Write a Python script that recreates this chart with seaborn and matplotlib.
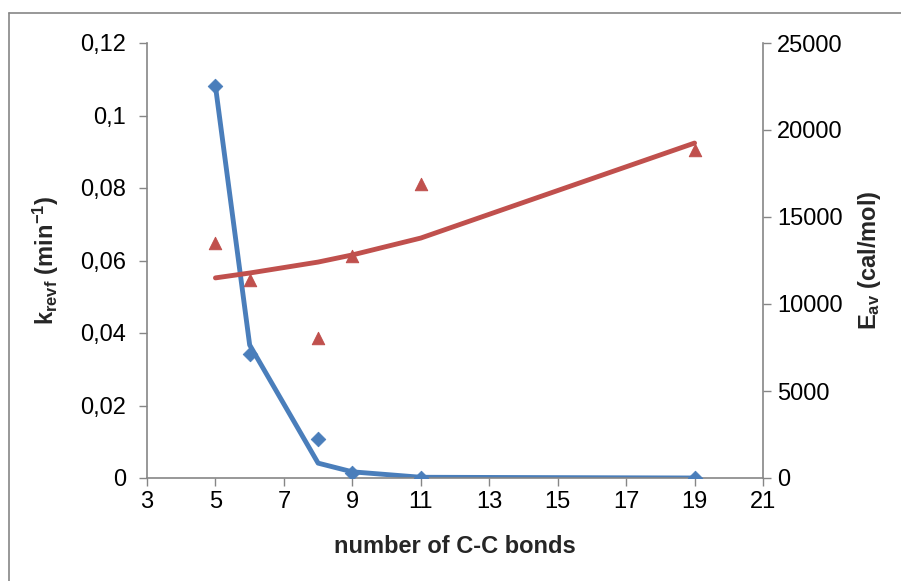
import matplotlib
matplotlib.use("Agg")
import matplotlib.pyplot as plt
from matplotlib.lines import Line2D
from matplotlib.ticker import FuncFormatter, MultipleLocator, FixedLocator
import pandas as pd
import seaborn as sns

sns.set_style("white")
plt.rcParams["font.family"] = ["Liberation Sans", "DejaVu Sans"]
plt.rcParams["mathtext.fontset"] = "custom"
plt.rcParams["mathtext.rm"] = "Liberation Sans"
plt.rcParams["mathtext.bf"] = "Liberation Sans:bold"

# data
bonds = [5, 6, 8, 9, 11, 19]
k_points = [0.1081, 0.0342, 0.0108, 0.0014, 0.0, 0.0]
k_fit = [0.1081, 0.0367, 0.0041, 0.0017, 0.0002, 0.0]
e_points = [13500, 11380, 8050, 12760, 16900, 18850]
e_fit = [11500, 11780, 12410, 12820, 13790, 19250]
x_ticks = [3, 5, 7, 9, 11, 13, 15, 17, 19, 21]

df = pd.DataFrame({"bonds": bonds, "k": k_points, "k_fit": k_fit,
                   "E": e_points, "E_fit": e_fit})

blue = "#4a7ebb"
red = "#c0504d"
gray = "#868686"

fig = plt.figure(figsize=(9.01, 5.81), dpi=100)
ax = fig.add_axes([147 / 901, 103 / 581, 616 / 901, 435 / 581])
ax2 = ax.twinx()

sns.lineplot(data=df, x="bonds", y="k_fit", ax=ax, color=blue, linewidth=3.5)
sns.scatterplot(data=df, x="bonds", y="k", ax=ax, color=blue, marker="D",
                s=55, edgecolor=blue, zorder=3)
sns.lineplot(data=df, x="bonds", y="E_fit", ax=ax2, color=red, linewidth=3.5)
sns.scatterplot(data=df, x="bonds", y="E", ax=ax2, color=red, marker="^",
                s=80, edgecolor=red, zorder=3)

ax.set_xlim(3, 21)
ax.set_ylim(0, 0.12)
ax2.set_ylim(0, 25000)
ax.xaxis.set_major_locator(FixedLocator(x_ticks))
ax.yaxis.set_major_locator(MultipleLocator(0.02))
ax2.yaxis.set_major_locator(MultipleLocator(5000))
ax.yaxis.set_major_formatter(FuncFormatter(lambda v, p: f"{v:.2f}".rstrip("0").rstrip(".").replace(".", ",") if v else "0"))

for a in (ax, ax2):
    for s in a.spines.values():
        s.set_visible(False)
    a.tick_params(labelsize=17, colors="black", length=6, width=1,
                  color=gray, direction="out")
ax.spines["left"].set_visible(True)
ax.spines["bottom"].set_visible(True)
ax2.spines["right"].set_visible(True)
for s in (ax.spines["left"], ax.spines["bottom"], ax2.spines["right"]):
    s.set_color(gray)
    s.set_linewidth(1.2)
ax.tick_params(axis="y", left=True, pad=9)
ax.tick_params(axis="x", bottom=True, pad=3)
ax2.tick_params(axis="y", right=True, pad=4)

ax.set_xlabel("number of C-C bonds", fontsize=17, fontweight="bold", labelpad=16)
ax.set_ylabel(r"$\mathbf{k_{revf}}$ $\mathbf{(min^{-1})}$", fontsize=17, labelpad=14)
ax2.set_ylabel(r"$\mathbf{E_{av}}$ $\mathbf{(cal/mol)}$", fontsize=17, labelpad=10)

# outer chart border
fig.add_artist(Line2D([8.5 / 901, 8.5 / 901], [0, 1 - 13 / 581], color=gray, lw=1.2))
fig.add_artist(Line2D([8.5 / 901, 1], [1 - 13 / 581, 1 - 13 / 581], color=gray, lw=1.2))

fig.savefig("out.png", dpi=100, facecolor="white")
